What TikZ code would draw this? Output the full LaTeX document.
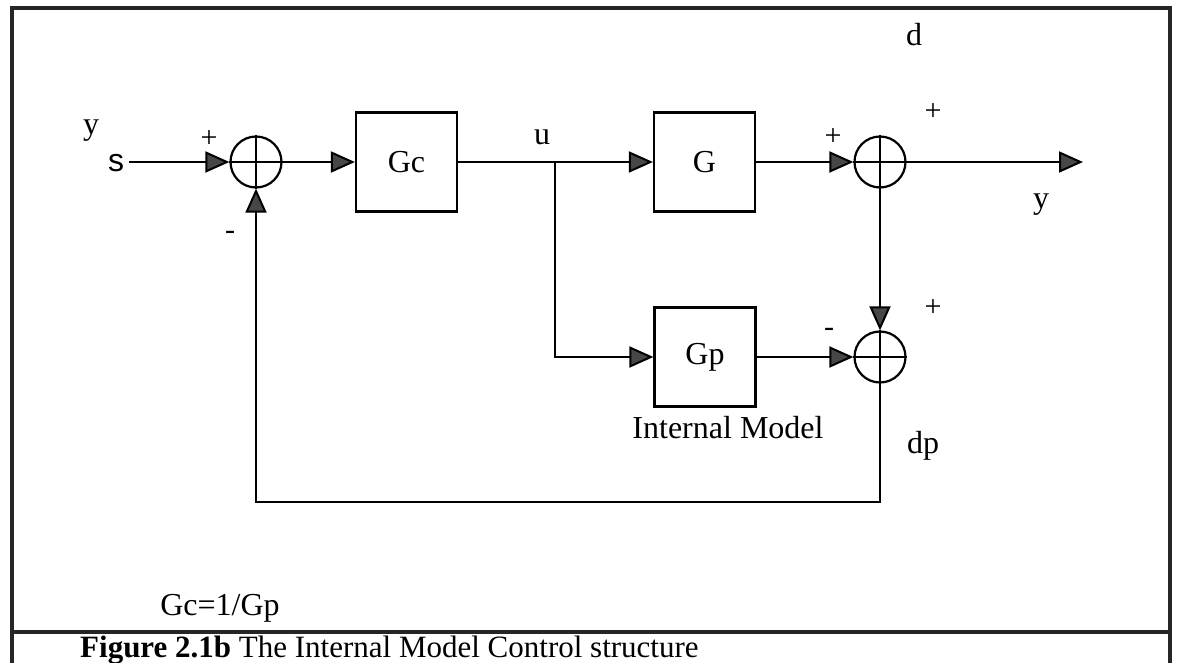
\documentclass[tikz,border=0pt]{standalone}
\usepackage{fontspec}
\setmainfont{Liberation Serif}
\newfontfamily\helv{Liberation Sans}
\usetikzlibrary{arrows.meta}
\tikzset{
  blk/.style={draw, line width=2.2pt, minimum width=101pt, minimum height=99pt, inner sep=0pt, font=\fontsize{32}{38}\selectfont},
  sumj/.style={draw, circle, line width=2.2pt, minimum size=51pt, inner sep=0pt},
  lbl/.style={inner sep=0pt, font=\fontsize{32}{38}\selectfont},
  sgn/.style={inner sep=0pt, font=\fontsize{30}{36}\selectfont},
  wire/.style={line width=2pt},
  arr/.style={wire, -{Triangle[length=24pt, width=21pt, fill=black!72]}},
  frm/.style={line width=3.2pt, black!85}
}
\begin{document}
\begin{tikzpicture}[x=1pt, y=-1pt]
\useasboundingbox (0,0) rectangle (1183,663);
% frame
\draw[frm] (12,663) -- (12,8) -- (1170,8) -- (1170,663);
\draw[frm] (12,632) -- (1170,632);

% blocks and junctions
\node[sumj] (j1) at (256,162) {};
\node[blk] (Gc) at (406.5,162) {Gc};
\node[blk] (G) at (704.5,162) {G};
\node[sumj] (j2) at (880,162) {};
\node[blk] (Gp) at (705,357) {Gp};
\node[sumj] (j3) at (880,357) {};

\foreach \j in {j1,j2,j3} {
  \draw[wire] (\j.north) -- (\j.south);
  \draw[wire] (\j.west) -- (\j.east);
}

\coordinate (sin) at (129,162);
\coordinate (br) at (555,162);
\coordinate (out) at (1083,162);
\coordinate (fb) at (880,502);

% connectors
\draw[arr] (sin) -- (j1.west);
\draw[arr] (j1.east) -- (Gc.west);
\draw[arr] (Gc.east) -- (G.west);
\draw[arr] (br) |- (Gp.west);
\draw[arr] (G.east) -- (j2.west);
\draw[arr] (j2.east) -- (out);
\draw[arr] (j2.south) -- (j3.north);
\draw[arr] (Gp.east) -- (j3.west);
\draw[arr] (j3.south) -- (fb) -| (j1.south);

% labels
\node[lbl] (ly) at (91,131) {y};
\node[lbl, font=\helv\fontsize{32}{38}\selectfont] (ls) at (116,163) {s};
\node[sgn] (p1) at (209,139) {+};
\node[sgn] (m1) at (230,235) {-};
\node[lbl] (lu) at (542,137) {u};
\node[lbl] (ld) at (914,35) {d};
\node[sgn] (p2) at (833,137) {+};
\node[sgn] (p3) at (933,112) {+};
\node[lbl] (lyo) at (1041,205) {y};
\node[sgn] (m3) at (829,332) {-};
\node[sgn] (p4) at (933,308) {+};
\node[lbl] (ldp) at (923,446) {dp};
\node[lbl] (im) at (728,428) {Internal Model};
\node[lbl] (gcgp) at (220,608) {Gc=1/Gp};
\node[lbl, anchor=west, font=\fontsize{31}{36}\selectfont] (cap) at (80,650) {\textbf{Figure 2.1b} The Internal Model Control structure};
\end{tikzpicture}
\end{document}
